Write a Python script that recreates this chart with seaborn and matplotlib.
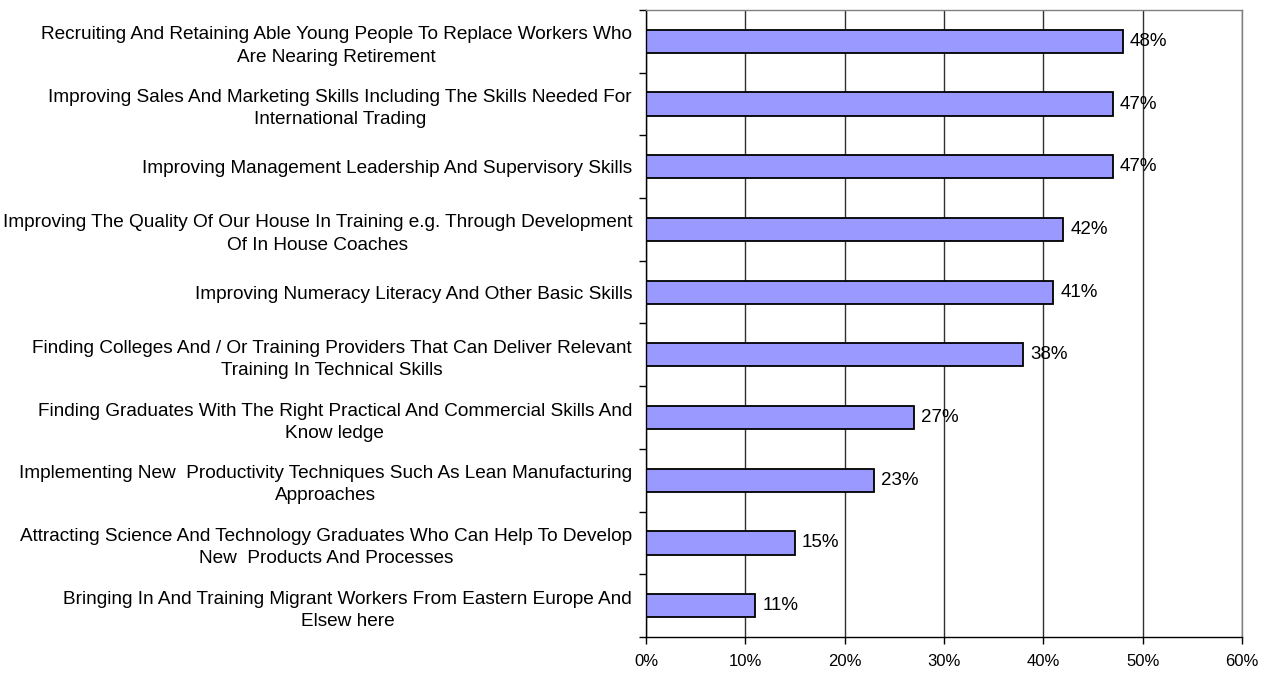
import matplotlib
matplotlib.use("Agg")
import matplotlib.pyplot as plt
import matplotlib.transforms as mtransforms
from matplotlib.ticker import FixedLocator, FuncFormatter
import seaborn as sns
import pandas as pd

categories = [
    "Recruiting And Retaining Able Young People To Replace Workers Who\nAre Nearing Retirement",
    "Improving Sales And Marketing Skills Including The Skills Needed For\nInternational Trading",
    "Improving Management Leadership And Supervisory Skills",
    "Improving The Quality Of Our House In Training e.g. Through Development\nOf In House Coaches",
    "Improving Numeracy Literacy And Other Basic Skills",
    "Finding Colleges And / Or Training Providers That Can Deliver Relevant\nTraining In Technical Skills",
    "Finding Graduates With The Right Practical And Commercial Skills And\nKnow ledge",
    "Implementing New  Productivity Techniques Such As Lean Manufacturing\nApproaches",
    "Attracting Science And Technology Graduates Who Can Help To Develop\nNew  Products And Processes",
    "Bringing In And Training Migrant Workers From Eastern Europe And\nElsew here",
]
values = [48, 47, 47, 42, 41, 38, 27, 23, 15, 11]
x_ticks = [0, 10, 20, 30, 40, 50, 60]

sns.set_theme(style="white")
plt.rcParams["font.family"] = ["Liberation Sans", "DejaVu Sans"]

df = pd.DataFrame({"item": categories, "pct": values})

fig = plt.figure(figsize=(12.75, 6.73), dpi=100)
ax = fig.add_axes([646 / 1275, 1 - 637 / 673, (1242 - 646) / 1275, (637 - 10) / 673])

sns.barplot(data=df, y="item", x="pct", orient="h", ax=ax, width=0.37,
            color="#9999FF", edgecolor="black", linewidth=1.3, saturation=1)

for i, v in enumerate(values):
    ax.text(v + 0.7, i, f"{v}%", va="center", ha="left", fontsize=13.5, color="black")

ax.set_xlim(0, 60)
ax.set_ylim(len(categories) - 0.5, -0.5)
ax.xaxis.set_major_locator(FixedLocator(x_ticks))
ax.xaxis.set_major_formatter(FuncFormatter(lambda v, p: f"{v:.0f}%"))
ax.set_xlabel("")
ax.set_ylabel("")

ax.grid(axis="x", color="#303030", linewidth=1)
ax.set_axisbelow(True)

# two-line category labels sit slightly above the bar centre
lift = mtransforms.ScaledTranslation(0, 3.5 / 72, fig.dpi_scale_trans)
for lab in ax.get_yticklabels():
    lab.set_multialignment("center")
    lab.set_linespacing(1.4)
    if "\n" in lab.get_text():
        lab.set_transform(lab.get_transform() + lift)
ax.tick_params(axis="y", which="major", length=0, pad=10, labelsize=13.7, labelcolor="black")
ax.set_yticks([i - 0.5 for i in range(len(categories) + 1)], minor=True)
ax.tick_params(axis="y", which="minor", length=5, width=1, color="black", left=True)
ax.tick_params(axis="x", which="major", length=5, width=1, color="black", bottom=True,
               pad=7, labelsize=12, labelcolor="black")

for side in ("left", "bottom"):
    ax.spines[side].set_color("black")
    ax.spines[side].set_linewidth(1)
for side in ("top", "right"):
    ax.spines[side].set_color("#808080")
    ax.spines[side].set_linewidth(1)

fig.savefig("out.png", dpi=100)
